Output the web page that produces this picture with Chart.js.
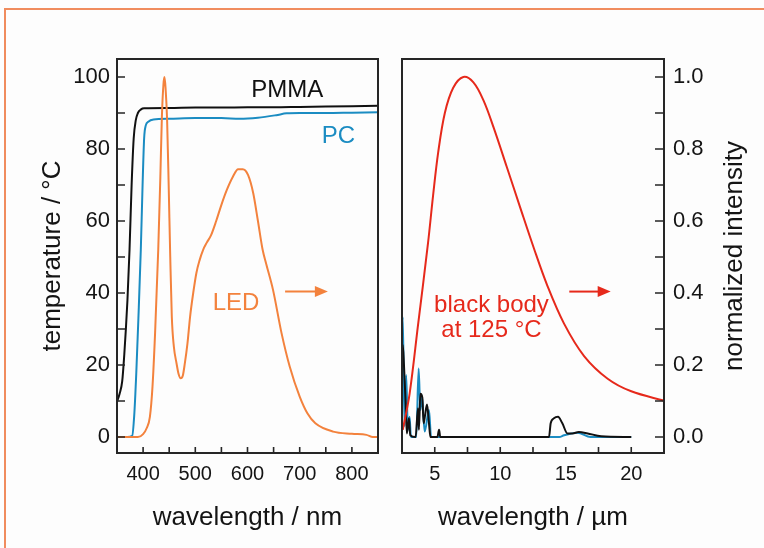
<!DOCTYPE html>
<html>
<head>
<meta charset="utf-8">
<script src="https://cdn.jsdelivr.net/npm/chart.js@4.4.1/dist/chart.umd.min.js"></script>
<style>
  html, body { margin: 0; padding: 0; background: #fdfdfd; }
  #page { position: relative; width: 764px; height: 548px; overflow: hidden; background: #fdfdfd; }
  #frame { position: absolute; left: 4px; top: 8px; width: 800px; height: 600px;
           border-top: 2px solid #f08c5e; border-left: 2px solid #f08c5e; }
  #left { position: absolute; left: 0; top: 0; width: 390px; height: 548px; }
  #right { position: absolute; left: 390px; top: 0; width: 374px; height: 548px; }
</style>
</head>
<body>
<div id="page">
  <div id="frame"></div>
  <div id="left"><canvas id="chartL"></canvas></div>
  <div id="right"><canvas id="chartR"></canvas></div>
</div>
<script>
// left panel: visible range, nm
const pmmaX = [350, 355, 360, 364, 367, 370, 374, 378, 382, 386, 390, 396, 402, 450, 500, 550, 600, 650, 700, 750, 800, 850];
const pmmaY = [9.8, 12, 15.5, 23, 30, 38, 52, 70, 83, 88, 90, 91, 91.3, 91.4, 91.5, 91.5, 91.6, 91.6, 91.7, 91.8, 91.9, 92];

const pcX = [350, 370, 379, 383, 387, 391, 395.6, 399, 402, 405, 410, 420, 450, 500, 550, 585, 620, 655, 675, 700, 750, 800, 850];
const pcY = [0, 0, 0.3, 6, 18, 33, 52, 70, 83, 86.5, 87.6, 88.2, 88.4, 88.6, 88.6, 88.4, 88.7, 89.4, 89.9, 90, 90, 90.1, 90.2];

const ledX = [350, 390, 400, 407, 413, 418, 423, 429, 433, 436, 439, 441, 443, 446, 449, 452, 455, 459, 464, 468, 472, 476, 480, 485, 490, 496, 502, 508, 515, 522, 530, 540, 550, 560, 572, 582, 591, 601, 611, 620, 629, 636, 649, 665, 681, 700, 715, 730, 764, 800, 828, 840, 850];
const ledY = [0, 0, 0.8, 2.5, 5.6, 14, 29, 52, 72, 89, 98, 100, 97, 88, 70, 50, 33.4, 25, 20.5, 17.5, 16.3, 17, 20.5, 26, 33.4, 40, 45.5, 49, 52, 54, 56, 60, 64.5, 68.5, 72.3, 74.4, 74.4, 72.8, 67.7, 60, 52, 48, 40.8, 29, 19.5, 11.2, 6.5, 3.8, 1.5, 0.9, 0.6, 0, 0];

// right panel: infrared, µm
const bbX = [2.56, 3.08, 3.72, 4.49, 4.87, 5.26, 5.77, 6.41, 7.18, 7.95, 8.72, 9.49, 10.5, 11.5, 12.56, 13.6, 14.87, 16.4, 18.2, 20, 22.6];
const bbY = [0.02, 0.12, 0.31, 0.54, 0.67, 0.79, 0.90, 0.97, 1.0, 0.985, 0.935, 0.86, 0.75, 0.64, 0.525, 0.42, 0.315, 0.225, 0.162, 0.127, 0.10];

const pmmaIrX = [2.5, 2.56, 2.65, 2.77, 2.87, 3.03, 3.13, 3.54, 3.72, 3.79, 3.9, 4.05, 4.15, 4.26, 4.41, 4.56, 4.67, 5.2, 5.33, 5.42, 13.72, 13.85, 14.1, 14.41, 14.74, 15.13, 15.51, 16.0, 16.67, 17.7, 20];
const pmmaIrY = [0.22, 0.256, 0.2, 0.10, 0.01, 0.052, 0.005, 0, 0.08, 0.02, 0.12, 0.11, 0.038, 0.06, 0.09, 0.038, 0, 0, 0.02, 0, 0, 0.038, 0.052, 0.056, 0.038, 0.01, 0.01, 0.014, 0.01, 0.002, 0];

const pcIrX = [2.5, 2.56, 2.69, 2.82, 2.95, 3.08, 3.18, 3.59, 3.77, 3.9, 4.03, 4.23, 4.56, 4.72, 14.5, 14.87, 15.9, 16.9, 20];
const pcIrY = [0.3, 0.334, 0.03, 0.172, 0.02, 0.056, 0, 0, 0.19, 0.075, 0.112, 0.015, 0.075, 0, 0, 0.005, 0.012, 0, 0];

// ticks
const leftXTicks = [400, 450, 500, 550, 600, 650, 700, 750, 800];
const leftYTicks = [0, 10, 20, 30, 40, 50, 60, 70, 80, 90, 100];
const rightXTicks = [5, 7.5, 10, 12.5, 15, 17.5, 20];
const rightYTicks = [0, 0.1, 0.2, 0.3, 0.4, 0.5, 0.6, 0.7, 0.8, 0.9, 1.0];

const BLACK = '#111111', BLUE = '#1b8cc2', ORANGE = '#f3823d', RED = '#e6291b';

Chart.defaults.font.family = "'Liberation Sans', Arial, sans-serif";
Chart.defaults.color = '#141414';

function pts(xs, ys) { return xs.map((x, i) => ({ x: x, y: ys[i] })); }

// frame, inward ticks and the text notes
const framePlugin = {
  id: 'framePlugin',
  afterDatasetsDraw(chart, args, opts) {
    const { ctx, chartArea: a } = chart;
    const sx = chart.scales.x, sy = chart.scales.y;
    ctx.save();
    ctx.strokeStyle = '#262626';
    ctx.lineWidth = 2;
    ctx.strokeRect(a.left, a.top, a.right - a.left, a.bottom - a.top);
    ctx.lineWidth = 1.6;
    ctx.beginPath();
    sx.ticks.forEach(t => {
      const px = sx.getPixelForValue(t.value);
      ctx.moveTo(px, a.bottom); ctx.lineTo(px, a.bottom - 6);
    });
    sy.ticks.forEach(t => {
      const py = sy.getPixelForValue(t.value);
      if (sy.position === 'left') { ctx.moveTo(a.left, py); ctx.lineTo(a.left + 8, py); }
      else { ctx.moveTo(a.right, py); ctx.lineTo(a.right - 9, py); }
    });
    ctx.stroke();

    ctx.font = "24px 'Liberation Sans', Arial, sans-serif";
    ctx.textAlign = 'center';
    ctx.textBaseline = 'alphabetic';
    (opts.notes || []).forEach(n => {
      ctx.fillStyle = n.color;
      ctx.fillText(n.text, sx.getPixelForValue(n.x), sy.getPixelForValue(n.y));
    });
    (opts.arrows || []).forEach(ar => {
      const x0 = sx.getPixelForValue(ar.x0), x1 = sx.getPixelForValue(ar.x1), y = sy.getPixelForValue(ar.y);
      ctx.strokeStyle = ar.color; ctx.fillStyle = ar.color; ctx.lineWidth = 2;
      ctx.beginPath(); ctx.moveTo(x0, y); ctx.lineTo(x1 - 10, y); ctx.stroke();
      ctx.beginPath(); ctx.moveTo(x1, y); ctx.lineTo(x1 - 13, y - 5.5); ctx.lineTo(x1 - 13, y + 5.5); ctx.closePath(); ctx.fill();
    });
    if (opts.sideTitle) {
      ctx.fillStyle = '#141414';
      ctx.font = "26px 'Liberation Sans', Arial, sans-serif";
      ctx.textBaseline = 'middle';
      ctx.translate(a.right + 71, (a.top + a.bottom) / 2);
      ctx.rotate(-Math.PI / 2);
      ctx.fillText(opts.sideTitle, 0, 0);
    }
    ctx.restore();
  }
};

function lineSet(xs, ys, color, tension) {
  const d = { data: pts(xs, ys), borderColor: color, borderWidth: 2, pointRadius: 0, fill: false };
  if (tension) d.tension = tension; else d.cubicInterpolationMode = 'monotone';
  return d;
}

const configL = {
  type: 'line',
  data: {
    datasets: [
      lineSet(ledX, ledY, ORANGE),
      lineSet(pmmaX, pmmaY, BLACK),
      lineSet(pcX, pcY, BLUE)
    ]
  },
  options: {
    responsive: true,
    maintainAspectRatio: false,
    animation: false,
    layout: { padding: { top: 59, right: 12, left: 0, bottom: 0 } },
    plugins: {
      legend: { display: false },
      tooltip: { enabled: false },
      framePlugin: {
        notes: [
          { text: 'PMMA', x: 676, y: 94.5, color: BLACK },
          { text: 'PC', x: 774, y: 81.8, color: BLUE },
          { text: 'LED', x: 578, y: 35.3, color: ORANGE }
        ],
        arrows: [ { x0: 672, x1: 754, y: 40.4, color: ORANGE } ]
      }
    },
    scales: {
      x: {
        type: 'linear', position: 'bottom', min: 350, max: 850,
        grid: { display: false, drawTicks: false }, border: { display: false },
        afterBuildTicks: s => { s.ticks = leftXTicks.map(v => ({ value: v })); },
        afterFit: s => { s.height = 95; },
        ticks: { padding: 9, font: { size: 20 }, maxRotation: 0, autoSkip: false,
                 callback: v => (v % 100 === 0 ? String(v) : '') },
        title: { display: true, text: 'wavelength / nm', font: { size: 26 }, padding: { bottom: 15 } }
      },
      y: {
        type: 'linear', position: 'left', min: -4.44, max: 105,
        grid: { display: false, drawTicks: false }, border: { display: false },
        afterBuildTicks: s => { s.ticks = leftYTicks.map(v => ({ value: v })); },
        afterFit: s => { s.width = 117; },
        ticks: { padding: 7, font: { size: 22 }, autoSkip: false,
                 callback: v => (v % 20 === 0 ? String(v) : '') },
        title: { display: true, text: 'temperature / °C', font: { size: 26 }, padding: { top: 37 } }
      }
    }
  },
  plugins: [framePlugin]
};

const configR = {
  type: 'line',
  data: {
    datasets: [
      lineSet(bbX, bbY, RED, 0.35),
      lineSet(pmmaIrX, pmmaIrY, BLACK),
      lineSet(pcIrX, pcIrY, BLUE)
    ]
  },
  options: {
    responsive: true,
    maintainAspectRatio: false,
    animation: false,
    layout: { padding: { top: 59, right: 0, left: 12, bottom: 0 } },
    plugins: {
      legend: { display: false },
      tooltip: { enabled: false },
      framePlugin: {
        notes: [
          { text: 'black body', x: 9.33, y: 0.347, color: RED },
          { text: 'at 125 °C', x: 9.33, y: 0.278, color: RED }
        ],
        arrows: [ { x0: 15.27, x1: 18.43, y: 0.404, color: RED } ],
        sideTitle: 'normalized intensity'
      }
    },
    scales: {
      x: {
        type: 'linear', position: 'bottom', min: 2.5, max: 22.5,
        grid: { display: false, drawTicks: false }, border: { display: false },
        afterBuildTicks: s => { s.ticks = rightXTicks.map(v => ({ value: v })); },
        afterFit: s => { s.height = 95; },
        ticks: { padding: 9, font: { size: 20 }, maxRotation: 0, autoSkip: false,
                 callback: v => (v % 5 === 0 ? String(v) : '') },
        title: { display: true, text: 'wavelength / µm', font: { size: 26 }, padding: { bottom: 15 } }
      },
      y: {
        type: 'linear', position: 'right', min: -0.0444, max: 1.05,
        grid: { display: false, drawTicks: false }, border: { display: false },
        afterBuildTicks: s => { s.ticks = rightYTicks.map(v => ({ value: v })); },
        afterFit: s => { s.width = 100; },
        ticks: { padding: 9, font: { size: 22 }, autoSkip: false,
                 callback: v => (Math.round(v * 10) % 2 === 0 ? v.toFixed(1) : '') },
        title: { display: false }
      }
    }
  },
  plugins: [framePlugin]
};

const chartL = new Chart(document.getElementById('chartL'), configL);
const chartR = new Chart(document.getElementById('chartR'), configR);
</script>
</body>
</html>
